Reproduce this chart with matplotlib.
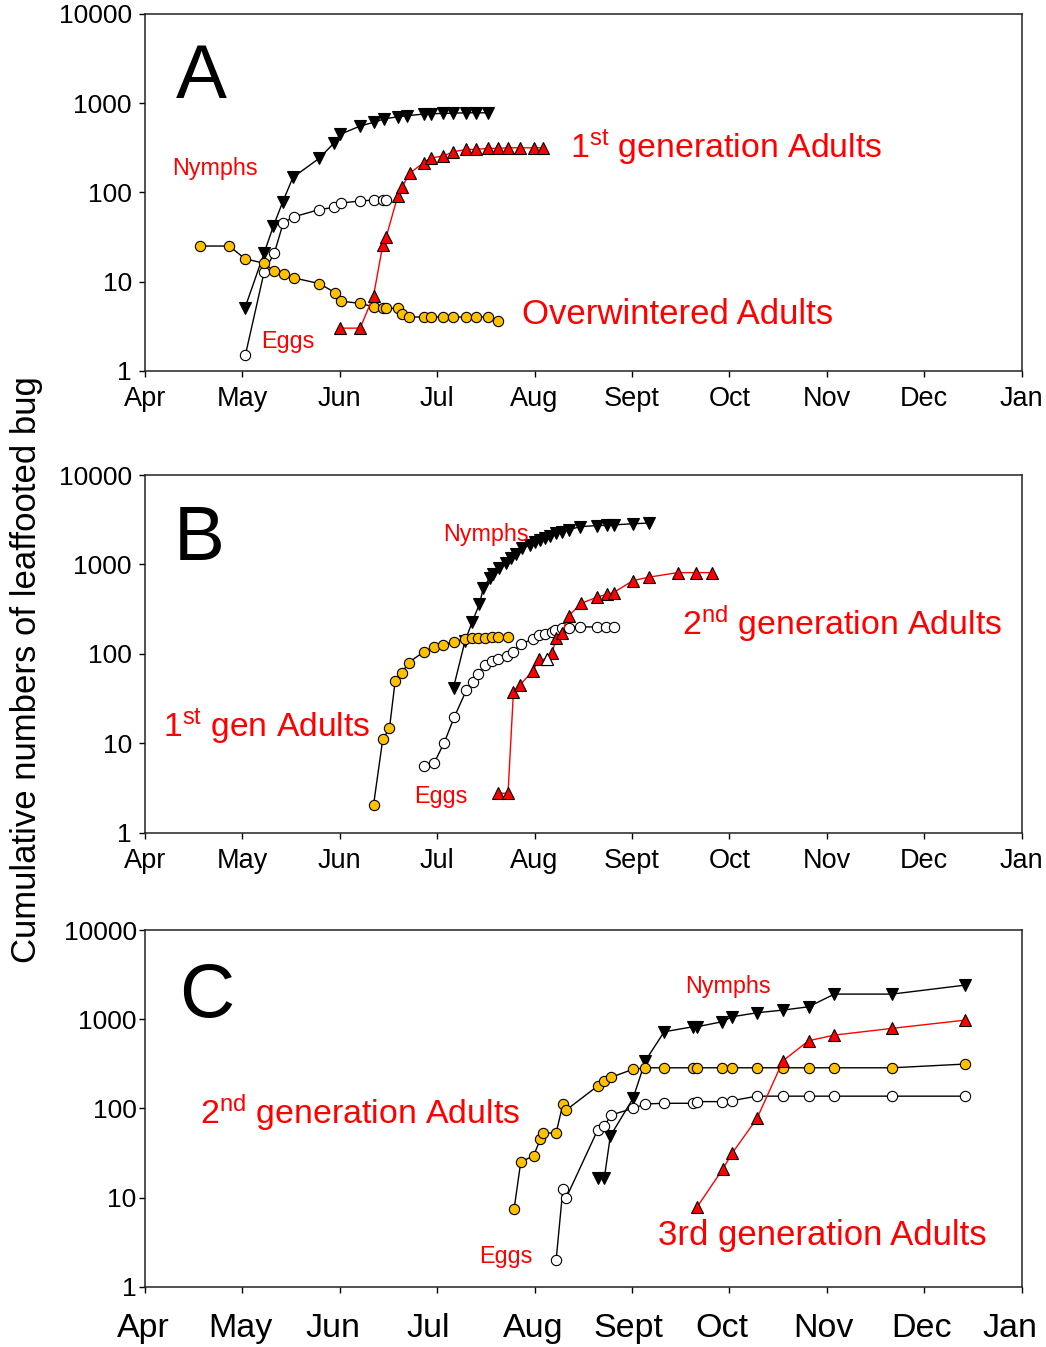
import numpy as np
import matplotlib
matplotlib.use("Agg")
import matplotlib.pyplot as plt
import matplotlib.transforms as mtrans
from matplotlib.ticker import NullLocator, FixedLocator, FixedFormatter

plt.rcParams['font.family'] = ['Liberation Sans', 'DejaVu Sans']
plt.rcParams['mathtext.fontset'] = 'custom'
plt.rcParams['mathtext.rm'] = 'Liberation Sans'
plt.rcParams['mathtext.it'] = 'Liberation Sans:italic'
plt.rcParams['mathtext.bf'] = 'Liberation Sans:bold'

# ---------------- data (x = days since 1 April) ----------------
months = ['Apr', 'May', 'Jun', 'Jul', 'Aug', 'Sept', 'Oct', 'Nov', 'Dec', 'Jan']
ytick_vals = [1, 10, 100, 1000, 10000]
ytick_labels = ['1', '10', '100', '1000', '10000']

# Panel A
a_ow_day = [17.3, 26.4, 31.4, 37.4, 40.6, 43.6, 46.6, 54.6, 59.7, 61.5, 67.5, 71.7, 74.6,
            75.7, 79.5, 80.6, 82.7, 87.4, 89.8, 93.6, 96.6, 100.8, 103.8, 107.6, 110.7]
a_ow_val = [25, 25, 18, 16, 13, 12, 11, 9.5, 7.5, 6, 5.7, 5.2, 5, 5, 5, 4.3, 4, 4, 4, 4,
            4, 4, 4, 4, 3.6]
a_nym_day = [31.4, 37.4, 40.3, 43.2, 46.4, 54.6, 59.4, 61.2, 67.5, 71.7, 75.1, 79.5, 82.1,
             87.4, 89.8, 93.6, 96.6, 100.8, 103.8, 107.6]
a_nym_val = [5.1, 21, 42, 78, 147, 240, 360, 447, 554, 609, 668, 704, 722, 755, 760, 769,
             772, 780, 780, 780]
a_egg_day = [31.5, 37.4, 40.6, 43.4, 46.6, 54.6, 59.4, 61.5, 67.5, 71.7, 74.6, 75.7]
a_egg_val = [1.5, 12.9, 21, 45.6, 53, 64, 68, 76, 80, 82, 82, 82]
a_ad1_day = [61.2, 67.5, 71.7, 74.6, 75.7, 79.3, 80.6, 83.0, 87.4, 89.8, 93.6, 96.6, 100.8,
             103.8, 107.6, 110.7, 113.9, 117.7, 121.9, 124.8]
a_ad1_val = [3, 3, 6.9, 25.7, 31.8, 91, 114, 163, 215, 244, 255, 285, 303, 303, 311, 311,
             316, 316, 316, 316]

# Panel B
b_ad1_day = [71.7, 74.6, 76.7, 78.5, 80.6, 82.7, 87.6, 90.7, 93.6, 96.8, 100.4, 102.6,
             104.6, 106.7, 108.8, 110.9, 113.9]
b_ad1_val = [2.04, 11.1, 14.7, 50, 61, 80, 106, 120, 126, 137, 146, 149, 152, 152, 153,
             153, 156]
b_nym_day = [96.8, 100.4, 102.7, 104.9, 106.2, 108.1, 109.3, 111.2, 113.3, 114.8, 116.5,
             118.2, 120.9, 122.4, 124.0, 125.6, 127.1, 129.0, 130.8, 132.9, 136.5, 141.8,
             144.9, 147.0, 153.1, 158.0]
b_nym_val = [42, 139, 229, 359, 550, 701, 777, 907, 1031, 1173, 1301, 1518, 1652, 1771,
             1880, 1995, 2099, 2233, 2328, 2432, 2649, 2716, 2740, 2767, 2850, 2900]
b_egg_day = [87.6, 90.7, 93.9, 97.0, 100.8, 102.9, 104.6, 106.7, 108.8, 110.9, 113.5,
             115.6, 117.9, 121.7, 123.5, 125.6, 127.7, 128.7, 130.8, 132.9, 136.5, 141.8,
             144.7, 147.0]
b_egg_val = [5.5, 6, 10.2, 19.5, 39, 49, 60, 75, 84, 87, 95, 106, 129, 146, 163, 167,
             177, 185, 193, 196, 200, 200, 200, 201]
b_ad2_day = [110.9, 113.9, 115.6, 117.7, 121.7, 123.7, 126.1, 127.7, 129.0, 130.8, 132.9,
             136.9, 141.8, 144.9, 147.0, 153.1, 158.0, 167.1, 172.9, 177.9]
b_ad2_val = [2.76, 2.76, 37.8, 44.9, 64.9, 87, 87, 101.6, 149, 170, 265, 368, 430, 464,
             484, 659, 719, 810, 810, 810]
b_ad2_open = 6  # one point drawn with open (white) symbol

# Panel C
c_ad2_day = [115.8, 117.9, 121.9, 124.0, 124.9, 129.0, 131.1, 132.2, 142.0, 144.1, 146.2,
             153.1, 157.0, 162.9, 171.9, 173.2, 181.0, 184.2, 192.0, 200.2, 208.2, 216.3,
             234.4, 257.4]
c_ad2_val = [7.4, 25.2, 29.2, 44.9, 52.4, 53.3, 111, 96, 178, 204, 223, 274, 285, 285,
             285, 285, 285, 285, 285, 285, 285, 285, 285, 314]
c_egg_day = [129.0, 131.1, 132.2, 142.0, 144.1, 146.2, 153.1, 157.0, 162.9, 171.9, 173.2,
             181.0, 184.2, 192.0, 200.2, 208.2, 216.3, 234.4, 257.4]
c_egg_val = [2, 12.4, 10, 57, 63, 84, 100, 112, 114, 114, 119, 119, 122, 137, 137, 137,
             137, 137, 137]
c_nym_day = [142.0, 144.1, 146.0, 153.1, 157.0, 162.9, 171.9, 173.2, 181.0, 184.2, 192.0,
             200.2, 208.2, 216.3, 234.4, 257.4]
c_nym_val = [16.4, 16.4, 49, 129, 342, 722, 822, 822, 935, 1064, 1180, 1265, 1377, 1911,
             1911, 2411]
c_ad3_day = [173.2, 181.2, 184.2, 192.0, 200.2, 208.2, 216.3, 234.4, 257.4]
c_ad3_val = [7.8, 20.7, 31.3, 77, 342, 573, 663, 789, 977]

# ---------------- figure ----------------
W, H = 1046, 1347
fig = plt.figure(figsize=(W / 100, H / 100), dpi=100)

YELLOW = '#FFC000'
RED = '#FF0000'
MS_CIRC = 7.4
MS_TRI = 8.3


def add_ax(top, bottom, left=145, right=1021.5):
    return fig.add_axes([left / W, 1 - bottom / H, (right - left) / W, (bottom - top) / H])


def fig_text(x, y, s, size, color=RED, ha='center', va='center'):
    fig.text(x / W, 1 - y / H, s, fontsize=size, color=color, ha=ha, va=va)


def style(ax, xlabsize, xpad, ypad):
    ax.set_yscale('log')
    ax.set_ylim(1, 10000)
    ax.set_xlim(0, 275)
    ax.yaxis.set_major_locator(FixedLocator(ytick_vals))
    ax.yaxis.set_major_formatter(FixedFormatter(ytick_labels))
    ax.yaxis.set_minor_locator(NullLocator())
    ax.set_xticks(np.arange(len(months)) * 275 / 9)
    ax.set_xticklabels(months)
    ax.xaxis.set_minor_locator(NullLocator())
    ax.tick_params(axis='y', direction='out', length=4.5, width=1, labelsize=19, pad=ypad)
    ax.tick_params(axis='x', direction='out', length=4.5, width=1, labelsize=xlabsize, pad=xpad)
    for sp in ax.spines.values():
        sp.set_linewidth(1.1)
        sp.set_color('#222222')


def series(ax, x, y, marker, fc, lc='black', ms=7, z=3):
    ax.plot(x, y, '-', color=lc, lw=1.0, marker=marker, ms=ms, mfc=fc, mec='black',
            mew=0.8, zorder=z, clip_on=False)


# Panel A
axA = add_ax(14, 370.7)
style(axA, 19.5, 6.5, 5)
series(axA, a_nym_day, a_nym_val, 'v', 'black', ms=MS_TRI, z=3)
series(axA, a_egg_day, a_egg_val, 'o', 'white', ms=MS_CIRC, z=4)
series(axA, a_ow_day, a_ow_val, 'o', YELLOW, ms=MS_CIRC, z=5)
series(axA, a_ad1_day, a_ad1_val, '^', RED, lc=RED, ms=MS_TRI, z=6)

# Panel B
axB = add_ax(475, 832.7)
style(axB, 19.5, 6.5, 5)
series(axB, b_nym_day, b_nym_val, 'v', 'black', ms=MS_TRI, z=3)
series(axB, b_ad1_day, b_ad1_val, 'o', YELLOW, ms=MS_CIRC, z=4)
series(axB, b_egg_day, b_egg_val, 'o', 'white', ms=MS_CIRC, z=5)
series(axB, b_ad2_day, b_ad2_val, '^', RED, lc=RED, ms=MS_TRI, z=6)
axB.plot(b_ad2_day[b_ad2_open], b_ad2_val[b_ad2_open], '^', ms=MS_TRI, mfc='white',
         mec='black', mew=0.8, zorder=7)

# Panel C
axC = add_ax(930, 1286.7)
style(axC, 24.5, 14.5, 1.5)
series(axC, c_nym_day, c_nym_val, 'v', 'black', ms=MS_TRI, z=3)
series(axC, c_ad2_day, c_ad2_val, 'o', YELLOW, ms=MS_CIRC, z=4)
series(axC, c_egg_day, c_egg_val, 'o', 'white', ms=MS_CIRC, z=5)
series(axC, c_ad3_day, c_ad3_val, '^', RED, lc=RED, ms=MS_TRI, z=6)
# the reference places the bottom-panel month labels slightly left of their ticks
c_shifts = [-2, -2, -7, -9, -1, -3, -7, -3, -3, -12]
for lab, dx in zip(axC.get_xticklabels(), c_shifts):
    lab.set_transform(lab.get_transform() +
                      mtrans.ScaledTranslation(dx / 100, 0, fig.dpi_scale_trans))

# Panel letters
fig_text(201, 79, 'A', 55, color='black')
fig_text(199, 540, 'B', 55, color='black')
fig_text(207, 997, 'C', 55, color='black')

# Annotations
fig_text(215, 168, 'Nymphs', 16.8)
fig_text(288, 342, 'Eggs', 16.8)
fig_text(570, 148, r'1$^{\mathrm{st}}$ generation Adults', 24.4, ha='left')
fig_text(522, 315, 'Overwintered Adults', 25, ha='left')

fig_text(486, 534, 'Nymphs', 16.8)
fig_text(441, 797, 'Eggs', 16.8)
fig_text(682, 624, r'2$^{\mathrm{nd}}$ generation Adults', 24.4, ha='left')
fig_text(163, 727, r'1$^{\mathrm{st}}$ gen Adults', 24.2, ha='left')

fig_text(728, 987, 'Nymphs', 16.8)
fig_text(506, 1257, 'Eggs', 16.8)
fig_text(200, 1113, r'2$^{\mathrm{nd}}$ generation Adults', 24.4, ha='left')
fig_text(658, 1236, '3rd generation Adults', 25, ha='left')

# y-axis label
fig.text(27 / W, 1 - 670 / H, 'Cumulative numbers of leaffooted bug', rotation=90,
         fontsize=25, ha='center', va='center', color='black')

fig.savefig('out.png', dpi=100)
